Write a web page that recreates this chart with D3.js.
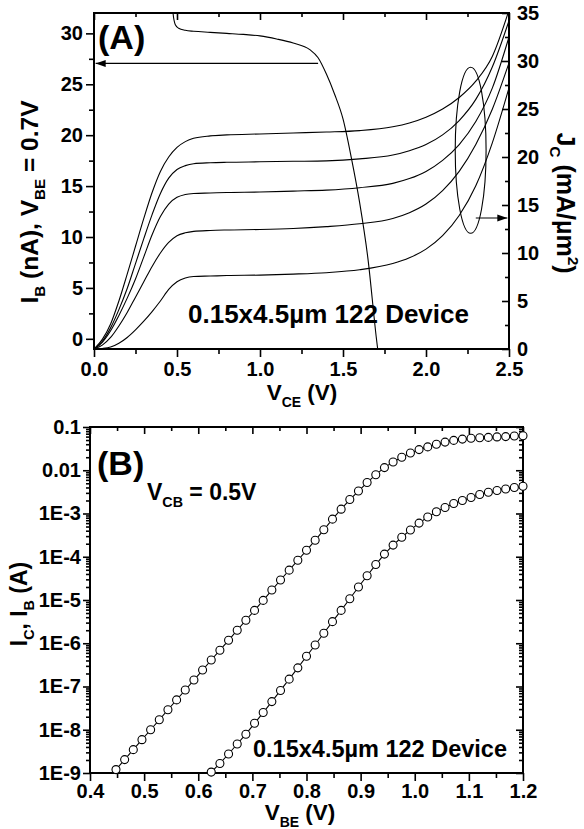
<!DOCTYPE html>
<html><head><meta charset="utf-8">
<script src="https://cdn.jsdelivr.net/npm/d3@7"></script>
<style>
body{margin:0;background:#fff}
svg{display:block}
</style>
</head><body>
<svg id="c" width="584" height="829"></svg>
<script>
// ---------------- DATA ----------------
// Panel A: output characteristics, V_CE sweep
const vce = [0,0.05,0.1,0.15,0.2,0.25,0.3,0.35,0.4,0.45,0.5,0.55,0.6,0.7,0.8,1.0,1.2,1.4,1.6,1.8,1.9,2.0,2.1,2.2,2.3,2.4,2.5];
const jc1 = [0,1.0,2.6,5.0,7.8,10.7,13.6,16.3,18.5,20.0,21.0,21.6,21.95,22.2,22.3,22.4,22.5,22.6,22.75,23.15,23.55,24.15,25.0,26.2,27.9,30.5,35.3];
const jc2 = [0,0.8,2.2,4.1,6.3,8.9,11.5,14.0,16.2,17.8,18.7,19.1,19.3,19.4,19.45,19.5,19.55,19.6,19.8,20.2,20.65,21.3,22.3,23.8,26.0,29.4,34.2];
const jc3 = [0,0.7,1.9,3.5,5.3,7.3,9.6,11.9,13.8,15.1,15.8,16.1,16.2,16.25,16.3,16.35,16.45,16.55,16.8,17.25,17.75,18.5,19.65,21.3,23.7,27.2,32.5];
const jc4 = [0,0.4,1.2,2.4,3.8,5.4,7.0,8.6,10.0,11.1,11.8,12.1,12.25,12.35,12.4,12.45,12.55,12.75,13.05,13.6,14.2,15.1,16.5,18.5,21.3,25.0,29.8];
const jc5 = [0,0.05,0.2,0.6,1.2,2.0,2.9,3.9,5.0,6.2,7.0,7.4,7.55,7.6,7.65,7.7,7.8,7.95,8.25,8.9,9.5,10.4,11.8,13.9,17.0,21.5,27.2];
// Base current at V_BE = 0.7 V (nA)
const vceIb = [0.465,0.476,0.49,0.51,0.55,0.6,0.7,0.8,0.9,1.0,1.1,1.2,1.3,1.35,1.4,1.45,1.5,1.55,1.6,1.65,1.7,1.72];
const ibNa  = [35,32.0,30.85,30.5,30.3,30.2,30.1,30.0,29.9,29.75,29.45,29.05,28.4,27.6,26.0,24.0,21.6,17.8,13.4,7.9,0.2,-2.5];

// Panel B: Gummel plot, V_BE sweep
const vbeIc = [0.448,0.464,0.48,0.496,0.512,0.528,0.544,0.56,0.576,0.592,0.608,0.624,0.64,0.656,0.672,0.688,0.704,0.72,0.736,0.752,0.768,0.784,0.8,0.816,0.832,0.848,0.864,0.88,0.896,0.912,0.928,0.944,0.96,0.976,0.992,1.008,1.024,1.04,1.056,1.072,1.088,1.104,1.12,1.136,1.152,1.168,1.184,1.2];
const icA = [1.2e-9,2.04e-9,3.47e-9,5.9e-9,1.0e-8,1.7e-8,2.9e-8,4.9e-8,8.3e-8,1.41e-7,2.4e-7,4.1e-7,6.9e-7,1.17e-6,2.0e-6,3.4e-6,5.75e-6,9.8e-6,1.7e-5,2.9e-5,4.9e-5,8.3e-5,1.41e-4,2.4e-4,4.2e-4,7.4e-4,1.26e-3,2.1e-3,3.3e-3,5.2e-3,7.9e-3,0.0115,0.0155,0.020,0.025,0.030,0.0347,0.040,0.0447,0.049,0.0525,0.055,0.0562,0.0575,0.059,0.060,0.0617,0.063];
const vbeIb = [0.624,0.64,0.656,0.672,0.688,0.704,0.72,0.736,0.752,0.768,0.784,0.8,0.816,0.832,0.848,0.864,0.88,0.896,0.912,0.928,0.944,0.96,0.976,0.992,1.008,1.024,1.04,1.056,1.072,1.088,1.104,1.12,1.136,1.152,1.168,1.184,1.2];
const ibA = [1.05e-9,1.66e-9,2.75e-9,4.68e-9,7.9e-9,1.41e-8,2.5e-8,4.47e-8,8.1e-8,1.48e-7,2.7e-7,5.0e-7,9.1e-7,1.7e-6,3.16e-6,5.75e-6,1.07e-5,2.0e-5,3.63e-5,6.6e-5,1.15e-4,1.86e-4,2.82e-4,4.17e-4,6.0e-4,8.3e-4,1.1e-3,1.38e-3,1.7e-3,2.0e-3,2.34e-3,2.75e-3,3.1e-3,3.4e-3,3.7e-3,4.0e-3,4.27e-3];

// Ticks
const xTicksA = [0,0.5,1.0,1.5,2.0,2.5];
const yTicksAL = [0,5,10,15,20,25,30];
const yTicksAR = [0,5,10,15,20,25,30,35];
const xTicksB = [0.4,0.5,0.6,0.7,0.8,0.9,1.0,1.1,1.2];
const yTicksB = [1e-9,1e-8,1e-7,1e-6,1e-5,1e-4,1e-3,0.01,0.1];
const yTickLabelsB = ["1E-9","1E-8","1E-7","1E-6","1E-5","1E-4","1E-3","0.01","0.1"];

// ---------------- DRAW ----------------
const FONT = '"Liberation Sans", Arial, Helvetica, sans-serif';
const svg = d3.select('#c');

// Panel A scales
const ax = d3.scaleLinear().domain([0,2.5]).range([94,509]);
const ayL = d3.scaleLinear().domain([-1,32]).range([349,13]);
const ayR = d3.scaleLinear().domain([0,35]).range([349,13]);
// Panel B scales
const bx = d3.scaleLinear().domain([0.4,1.2]).range([90,523]);
const by = d3.scaleLog().domain([1e-9,0.1]).range([773,427]);

function styleAxis(g, fs){
  g.select('.domain').remove();
  g.selectAll('line').attr('stroke','#000').attr('stroke-width',1.6);
  g.selectAll('text').attr('font-size',fs||20).attr('font-weight','bold')
    .attr('font-family',FONT).attr('fill','#000');
}
function minorBetween(arr){
  const out=[]; for(let i=0;i<arr.length-1;i++) out.push((arr[i]+arr[i+1])/2); return out;
}
function rich(x,y,rot,parts,size,anchor){
  const t = svg.append('text')
    .attr('transform',`translate(${x},${y}) rotate(${rot})`)
    .attr('font-family',FONT).attr('font-weight','bold').attr('font-size',size)
    .attr('text-anchor',anchor||'start').attr('fill','#000');
  let shift=0;
  parts.forEach(p=>{
    const target = p.sub ? size*0.3 : (p.sup ? -size*0.45 : 0);
    const ts = t.append('tspan').text(p.t).attr('dy', target-shift);
    if(p.sub||p.sup) ts.attr('font-size', size*0.62);
    shift = target;
  });
  return t;
}

// ---- Panel A ----
svg.append('defs').append('clipPath').attr('id','clipA').append('rect')
  .attr('x',94).attr('y',13).attr('width',415).attr('height',336);
svg.select('defs').append('clipPath').attr('id','clipB').append('rect')
  .attr('x',90).attr('y',427).attr('width',433).attr('height',346);

const gA = svg.append('g').attr('clip-path','url(#clipA)');
const lineR = d3.line().x((d,i)=>ax(vce[i])).y(d=>ayR(d)).curve(d3.curveMonotoneX);
[jc1,jc2,jc3,jc4,jc5].forEach(s=>{
  gA.append('path').attr('d',lineR(s)).attr('fill','none').attr('stroke','#000').attr('stroke-width',1.1);
});
const lineL = d3.line().x((d,i)=>ax(vceIb[i])).y(d=>ayL(d)).curve(d3.curveMonotoneX);
gA.append('path').attr('d',lineL(ibNa)).attr('fill','none').attr('stroke','#000').attr('stroke-width',1.1);

// annotations (data units)
const arrowL = {v0:1.35, v1:0.01, i:27.05};
const arrowR = {v0:2.30, v1:2.49, j:13.65};
const ell = {v:2.269, j:20.7, dv:0.093, dj:8.65};
function arrow(x0,y0,x1,y1){
  svg.append('line').attr('x1',x0).attr('y1',y0).attr('x2',x1).attr('y2',y1)
    .attr('stroke','#000').attr('stroke-width',1.1);
  const dir = Math.sign(x1-x0);
  svg.append('path').attr('d',`M${x1},${y1} L${x1-dir*10},${y1-3.5} L${x1-dir*10},${y1+3.5} Z`).attr('fill','#000');
}
arrow(ax(arrowL.v0), ayL(arrowL.i), ax(arrowL.v1), ayL(arrowL.i));
arrow(ax(arrowR.v0), ayR(arrowR.j), ax(arrowR.v1), ayR(arrowR.j));
svg.append('ellipse').attr('cx',ax(ell.v)).attr('cy',ayR(ell.j))
  .attr('rx',ax(ell.v+ell.dv)-ax(ell.v)).attr('ry',ayR(ell.j)-ayR(ell.j+ell.dj))
  .attr('fill','none').attr('stroke','#000').attr('stroke-width',1.1);

// axes A
svg.append('rect').attr('x',94).attr('y',13).attr('width',415).attr('height',336)
  .attr('fill','none').attr('stroke','#000').attr('stroke-width',2);
styleAxis(svg.append('g').attr('transform','translate(0,349)')
  .call(d3.axisBottom(ax).tickValues(xTicksA).tickFormat(d3.format('.1f')).tickSizeInner(8).tickSizeOuter(0).tickPadding(5)));
styleAxis(svg.append('g').attr('transform','translate(0,349)')
  .call(d3.axisBottom(ax).tickValues(minorBetween(xTicksA)).tickFormat('').tickSizeInner(5).tickSizeOuter(0)));
styleAxis(svg.append('g').attr('transform','translate(0,13)')
  .call(d3.axisTop(ax).tickValues(xTicksA).tickFormat('').tickSizeInner(-7).tickSizeOuter(0)));
styleAxis(svg.append('g').attr('transform','translate(0,13)')
  .call(d3.axisTop(ax).tickValues(minorBetween(xTicksA)).tickFormat('').tickSizeInner(-4).tickSizeOuter(0)));
styleAxis(svg.append('g').attr('transform','translate(94,0)')
  .call(d3.axisLeft(ayL).tickValues(yTicksAL).tickFormat(d3.format('d')).tickSizeInner(8).tickSizeOuter(0).tickPadding(3)));
styleAxis(svg.append('g').attr('transform','translate(94,0)')
  .call(d3.axisLeft(ayL).tickValues(minorBetween(yTicksAL)).tickFormat('').tickSizeInner(5).tickSizeOuter(0)));
styleAxis(svg.append('g').attr('transform','translate(509,0)')
  .call(d3.axisRight(ayR).tickValues(yTicksAR).tickFormat(d3.format('d')).tickSizeInner(-7).tickSizeOuter(0).tickPadding(8)));
styleAxis(svg.append('g').attr('transform','translate(509,0)')
  .call(d3.axisRight(ayR).tickValues(minorBetween(yTicksAR)).tickFormat('').tickSizeInner(-4).tickSizeOuter(0)));

// texts A
rich(98,49,0,[{t:'(A)'}],34);
rich(188,323,0,[{t:'0.15x4.5µm 122 Device'}],26);
rich(302,400,0,[{t:'V'},{t:'CE',sub:true},{t:' (V)'}],22.5,'middle');
rich(38,202,-90,[{t:'I'},{t:'B',sub:true},{t:' (nA), V'},{t:'BE',sub:true},{t:' = 0.7V'}],24.5,'middle');
rich(557,203,90,[{t:'J'},{t:'C',sub:true},{t:' (mA/µm'},{t:'2',sup:true},{t:')'}],25,'middle');

// ---- Panel B ----
const gB = svg.append('g').attr('clip-path','url(#clipB)');
const lineB = d3.line().x(d=>bx(d[0])).y(d=>by(d[1]));
const icPts = vbeIc.map((v,i)=>[v,icA[i]]);
const ibPts = vbeIb.map((v,i)=>[v,ibA[i]]);

svg.append('rect').attr('x',90).attr('y',427).attr('width',433).attr('height',346)
  .attr('fill','none').attr('stroke','#000').attr('stroke-width',2);
styleAxis(svg.append('g').attr('transform','translate(0,773)')
  .call(d3.axisBottom(bx).tickValues(xTicksB).tickFormat(d3.format('.1f')).tickSizeInner(8).tickSizeOuter(0).tickPadding(3)));
styleAxis(svg.append('g').attr('transform','translate(0,773)')
  .call(d3.axisBottom(bx).tickValues(minorBetween(xTicksB)).tickFormat('').tickSizeInner(5).tickSizeOuter(0)));
styleAxis(svg.append('g').attr('transform','translate(0,427)')
  .call(d3.axisTop(bx).tickValues(xTicksB).tickFormat('').tickSizeInner(-7).tickSizeOuter(0)));
styleAxis(svg.append('g').attr('transform','translate(0,427)')
  .call(d3.axisTop(bx).tickValues(minorBetween(xTicksB)).tickFormat('').tickSizeInner(-4).tickSizeOuter(0)));
const minorLog=[]; for(let e=-9;e<-1;e++) for(let k=2;k<10;k++) minorLog.push(k*Math.pow(10,e));
styleAxis(svg.append('g').attr('transform','translate(90,0)')
  .call(d3.axisLeft(by).tickValues(yTicksB).tickFormat((d,i)=>yTickLabelsB[i]).tickSizeInner(7).tickSizeOuter(0).tickPadding(2)));
styleAxis(svg.append('g').attr('transform','translate(90,0)')
  .call(d3.axisLeft(by).tickValues(minorLog).tickFormat('').tickSizeInner(4).tickSizeOuter(0)));
styleAxis(svg.append('g').attr('transform','translate(523,0)')
  .call(d3.axisRight(by).tickValues(yTicksB).tickFormat('').tickSizeInner(-7).tickSizeOuter(0)));
styleAxis(svg.append('g').attr('transform','translate(523,0)')
  .call(d3.axisRight(by).tickValues(minorLog).tickFormat('').tickSizeInner(-4).tickSizeOuter(0)));

[icPts, ibPts].forEach(pts=>{
  gB.append('path').attr('d',lineB(pts)).attr('fill','none').attr('stroke','#000').attr('stroke-width',1.1);
  svg.append('g').selectAll('circle').data(pts).join('circle')
    .attr('cx',d=>bx(d[0])).attr('cy',d=>by(d[1])).attr('r',4)
    .attr('fill','#fff').attr('stroke','#000').attr('stroke-width',1.1);
});

rich(97,475,0,[{t:'(B)'}],34);
rich(147,500,0,[{t:'V'},{t:'CB',sub:true},{t:' = 0.5V'}],23);
rich(253,757,0,[{t:'0.15x4.5µm 122 Device'}],23.5);
rich(300,820,0,[{t:'V'},{t:'BE',sub:true},{t:' (V)'}],22.5,'middle');
rich(27,604,-90,[{t:'I'},{t:'C',sub:true},{t:', I'},{t:'B',sub:true},{t:' (A)'}],23,'middle');
</script>
</body></html>
